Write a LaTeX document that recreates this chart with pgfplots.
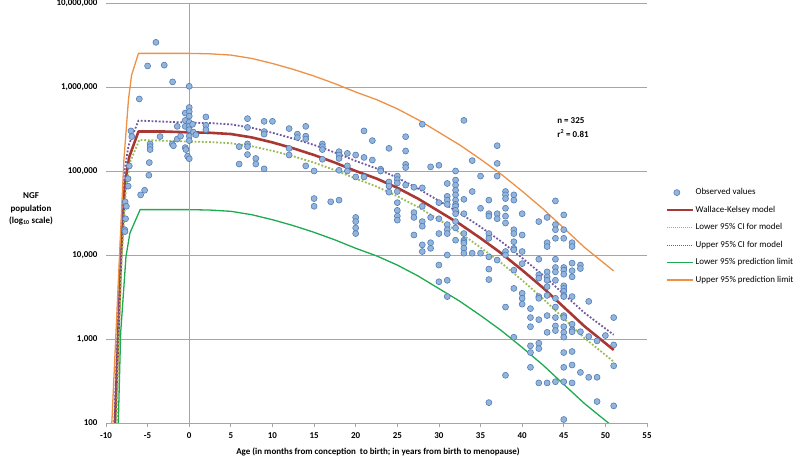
\documentclass[border=0pt]{standalone}
\usepackage{fontspec}
\setmainfont{Carlito}
\usepackage{pgfplots}
\pgfplotsset{compat=1.18}
\definecolor{gridgray}{RGB}{165,165,165}
\definecolor{ptfill}{RGB}{149,180,218}
\definecolor{ptdraw}{RGB}{79,125,185}
\definecolor{wkred}{RGB}{168,56,52}
\definecolor{lowci}{RGB}{155,187,89}
\definecolor{upci}{RGB}{112,88,160}
\definecolor{predlow}{RGB}{30,170,80}
\definecolor{predup}{RGB}{237,145,70}
\pgfplotsset{
  lineleg/.style={legend image code/.code={\draw[##1, line width=1.5bp] (0bp,0bp) -- (26bp,0bp);}},
  redleg/.style={legend image code/.code={\draw[##1, line width=1.5bp] (0bp,0bp) -- (26bp,0bp);}},
  dotleg/.style={legend image code/.code={\draw[##1, line width=1bp, dash pattern=on 1bp off 1bp] (0bp,0bp) -- (26bp,0bp);}},
  markleg/.style={legend image code/.code={\draw[##1, mark repeat=2, mark phase=2] plot coordinates {(0bp,0bp) (10bp,0bp) (20bp,0bp)};}},
}
\begin{document}
\begin{tikzpicture}
\useasboundingbox (0,0) rectangle (797bp,461bp);
\begin{axis}[
  at={(106bp,38bp)}, anchor=south west,
  scale only axis, width=541bp, height=420bp,
  xmin=-10, xmax=55, ymin=100, ymax=1e7, ymode=log,
  axis lines*=left,
  x axis line style={gridgray, line width=0.8bp},
  y axis line style={draw=none},
  xtick={-10,-5,...,55},
  xticklabels={-10,-5,0,5,10,15,20,25,30,35,40,45,50,55},
  xtick align=outside, major tick length=4bp,
  x tick style={gridgray, line width=0.8bp},
  ytick={100,1000,10000,100000,1000000,10000000},
  yticklabels={100,{1,000},{10,000},{100,000},{1,000,000},{10,000,000}},
  y tick style={draw=none}, yminorticks=false,
  ymajorgrids, major grid style={gridgray, line width=0.8bp},
  tick label style={font=\fontsize{9}{10}\selectfont\bfseries},
  yticklabel style={xshift=-5bp},
  xticklabel style={yshift=-2bp},
  legend style={at={(1.035,0.563)}, anchor=north west, draw=none, fill=none,
    font=\fontsize{9}{10}\selectfont, row sep=5.8bp, inner sep=0pt},
  legend cell align=left,
  every axis plot/.append style={line join=round},
]
\addplot[only marks, mark=*, mark size=3bp, mark options={fill=ptfill, draw=ptdraw, line width=0.6bp}, markleg]
table {
x y
-4.0 3.4e6
-5.0 1.78e6
-3.0 1.82e6
-2.0 1.15e6
0 1.02e6
-6.0 7.2e5
-7.0 3.0e5
-6.9 2.57e5
-7.2 1.15e5
-7.35 8.1e4
-7.33 6.6e4
-7.7 4.3e4
-7.55 3.8e4
-7.65 2.7e4
-7.75 2.0e4
-7.72 1.9e4
-4.7 2.1e5
-4.7 1.95e5
-4.7 1.8e5
-4.8 1.26e5
-4.85 8.9e4
-5.36 5.9e4
-5.84 5.2e4
-3.5 2.57e5
-2.04 2.1e5
-1.9 2.0e5
-1.44 3.4e5
-1.44 2.4e5
-1.04 2.6e5
-0.48 4.9e5
-0.48 4.0e5
-0.48 3.4e5
-0.48 1.9e5
-0.4 1.8e5
0 5.7e5
0 5.1e5
0 4.5e5
0 3.8e5
0 3.4e5
0 3.1e5
0.4 3.6e5
0.5 2.9e5
0 2.6e5
0 2.3e5
0.8 2.7e5
-0.2 1.5e5
0 1.4e5
2 4.4e5
2 3.5e5
2 3.1e5
6 1.95e5
6 1.21e5
7 4.2e5
7 3.3e5
7 2.1e5
7 1.95e5
7 1.57e5
8 1.41e5
8 1.21e5
9 3.9e5
9 2.95e5
9 2.75e5
9 1.06e5
10 3.9e5
12 3.2e5
12 1.86e5
12 1.55e5
13 2.75e5
13 2.5e5
14 3.4e5
14 2.6e5
14 2.4e5
14 1.15e5
15 1.0e5
15 4.7e4
15 3.8e4
16 2.1e5
16 1.95e5
16 1.8e5
16 1.38e5
17 4.3e4
18 1.7e5
18 1.55e5
18 1.41e5
18 1.02e5
18 4.5e4
19 1.62e5
19 1.15e5
19 1.0e5
20 1.55e5
20 8.5e4
20 2.8e4
20 2.5e4
20 2.1e4
20 1.8e4
21 3.0e5
21 1.45e5
21 8.5e4
22 2.3e5
22 1.35e5
23 1.05e5
23 1.0e5
24 1.86e5
24 7.4e4
24 6.6e4
24 5.6e4
25 8.7e4
25 7.9e4
25 7.2e4
25 5.7e4
25 4.2e4
25 3.4e4
25 2.9e4
25 2.6e4
26 2.56e5
26 1.73e5
26 1.2e5
26 1.1e5
26 6.8e4
27 6.4e4
27 3.2e4
27 2.8e4
27 1.73e4
28 3.6e5
28 6.3e4
28 3.8e4
28 2.5e4
28 2.2e4
28 1.32e4
28 1.1e4
29 1.12e5
29 2.8e4
29 1.4e4
29 1.2e4
30 1.17e5
30 4.2e4
30 2.7e4
30 1.8e4
30 7.6e3
30 4.8e3
31 7.1e4
31 5.0e4
31 4.5e4
31 4.0e4
31 2.3e4
31 2.0e4
31 1.8e4
31 1.0e4
31 5.0e3
31 3.2e3
32 1.0e5
32 7.8e4
32 6.8e4
32 5.9e4
32 5.2e4
32 4.5e4
32 4.0e4
32 3.8e4
32 3.4e4
32 3.1e4
32 2.5e4
32 2.1e4
32 1.5e4
33 4.0e5
33 4.6e4
33 3.1e4
33 1.8e4
33 1.5e4
33 1.44e4
33 1.38e4
33 1.2e4
33 1.05e4
34 1.33e5
34 5.7e4
34 1.05e4
35 8.7e4
35 3.6e4
35 1.05e4
36 4.5e4
36 3.1e4
36 2.9e4
36 1.8e4
36 1.58e4
36 9.5e3
36 6.8e3
36 5.1e3
36 175
37 2.0e5
37 1.23e5
37 8.7e4
37 3.1e4
37 2.7e4
37 8.7e3
38 5.7e4
38 5.2e4
38 4.7e4
38 3.6e4
38 2.9e4
38 2.4e4
38 1.1e4
38 1.0e4
38 2.4e3
38 370
39 5.2e4
39 4.5e4
39 2.0e4
39 1.8e4
39 1.44e4
39 1.2e4
39 1.15e4
39 6.6e3
39 4.0e3
39 1.05e3
40 3.1e4
40 1.73e4
40 1.1e4
40 7.9e3
40 3.5e3
40 3.05e3
40 2.6e3
41 2.3e3
41 1.8e3
41 1.4e3
41 830
41 690
41 460
42 2.5e4
42 8.9e3
42 5.8e3
42 5.3e3
42 3.2e3
42 3.05e3
42 1.7e3
42 890
42 770
42 300
43 2.8e4
43 1.4e4
43 1.26e4
43 6.3e3
43 5.5e3
43 5.0e3
43 4.2e3
43 3.3e3
43 1.9e3
43 1.2e3
43 300
44 4.4e4
44 2.3e4
44 2.0e4
44 1.58e4
44 8.9e3
44 7.1e3
44 6.3e3
44 5.0e3
44 3.05e3
44 2.4e3
44 1.8e3
44 1.43e3
44 1.26e3
44 310
45 3.0e4
45 2.0e4
45 1.58e4
45 7.1e3
45 6.6e3
45 5.9e3
45 4.3e3
45 4.0e3
45 3.7e3
45 3.3e3
45 3.2e3
45 1.9e3
45 1.8e3
45 1.4e3
45 1.2e3
45 1.05e3
45 690
45 460
45 310
45 110
46 1.4e4
46 1.26e4
46 8.0e3
46 6.5e3
46 5.5e3
46 3.2e3
46 1.5e3
46 1.28e3
46 1.22e3
46 710
46 490
46 300
47 7.6e3
47 6.9e3
47 1.22e3
47 400
48 2.8e3
48 1.07e3
48 350
49 950
49 350
49 180
50 1.1e3
51 1.8e3
51 850
51 480
51 160
};
\addlegendentry{Observed values}
\addplot[wkred, line width=2.6bp, redleg]
table {
x y
-9.1 31.6
-8.52 1175
-8.2 9550
-7.72 70800
-7.2 147900
-6.1 295100
-3 295100
0 288400
2.5 285100
5 275400
7.5 251200
10 218800
12.5 186200
15 154900
17.5 125900
20 100000
22.5 81280
25 63100
27.5 46770
30 33110
32.5 23440
35 15850
37.5 10470
40 6607
42.5 4074
45 2399
47.5 1413
51 741
};
\addlegendentry{Wallace-Kelsey model}
\addplot[lowci, line width=1.8bp, dash pattern=on 1.8bp off 1.8bp, dotleg]
table {
x y
-8.8 39.8
-8.45 1175
-8.1 9550
-7.6 63100
-7.05 131800
-6.0 234400
0 223900
2.5 221300
5 213800
7.5 197200
10 173800
12.5 149600
15 125900
17.5 102300
20 81280
22.5 65310
25 50120
27.5 37150
30 26300
32.5 18410
35 12300
37.5 8035
40 5012
42.5 3020
45 1758
47.5 1023
51 537
};
\addlegendentry{Lower 95\% CI for model}
\addplot[upci, line width=1.8bp, dash pattern=on 1.8bp off 1.8bp, dotleg]
table {
x y
-9.2 31.6
-8.6 1259
-8.3 10000
-7.85 89130
-7.3 199500
-6.1 398100
0 375800
2.5 371500
5 358900
7.5 327300
10 285100
12.5 242700
15 204200
17.5 166000
20 131800
22.5 107200
25 83180
27.5 61660
30 44160
32.5 31620
35 21630
37.5 14450
40 9226
42.5 5754
45 3428
47.5 2042
51 1122
};
\addlegendentry{Upper 95\% CI for model}
\addplot[predlow, line width=1.3bp, lineleg]
table {
x y
-8.7 20
-8.52 100
-8.24 1175
-7.6 9550
-7.13 18200
-5.9 34670
0 34670
2.5 34280
5 33110
7.5 30200
10 26300
12.5 22390
15 18620
17.5 15140
20 12020
22.5 9772
25 7586
27.5 5623
30 3981
32.5 2818
35 1905
37.5 1259
40 794
42.5 490
45 288
47.5 170
51 89
};
\addlegendentry{Lower 95\% prediction limit}
\addplot[predup, line width=1.3bp, lineleg]
table {
x y
-9.6 25.1
-9.3 100
-7.85 134900
-7.3 707900
-6.93 1380000
-6.1 2512000
0 2512000
2.5 2483000
5 2399000
7.5 2188000
10 1905000
12.5 1622000
15 1349000
17.5 1096000
20 871000
22.5 707900
25 549500
27.5 407400
30 288400
32.5 204200
35 138000
37.5 91200
40 57540
42.5 35480
45 20890
47.5 12300
51 6457
};
\addlegendentry{Upper 95\% prediction limit}
\draw[gridgray, line width=0.8bp] (axis cs:0,100) -- (axis cs:0,1e7);
\node[anchor=north west, align=left, font=\fontsize{9}{14}\selectfont\bfseries, inner sep=0pt]
  at (rel axis cs:0.834,0.728) {n = 325\\r\textsuperscript{2} = 0.81};
\end{axis}
\node[font=\fontsize{9}{10}\selectfont\bfseries] at (378bp,9bp)
  {Age (in months from conception\ \ to birth; in years from birth to menopause)};
\node[align=center, font=\fontsize{9}{12.5}\selectfont\bfseries] at (31bp,252bp)
  {NGF\\population\\(log\textsubscript{10} scale)};
\end{tikzpicture}
\end{document}
